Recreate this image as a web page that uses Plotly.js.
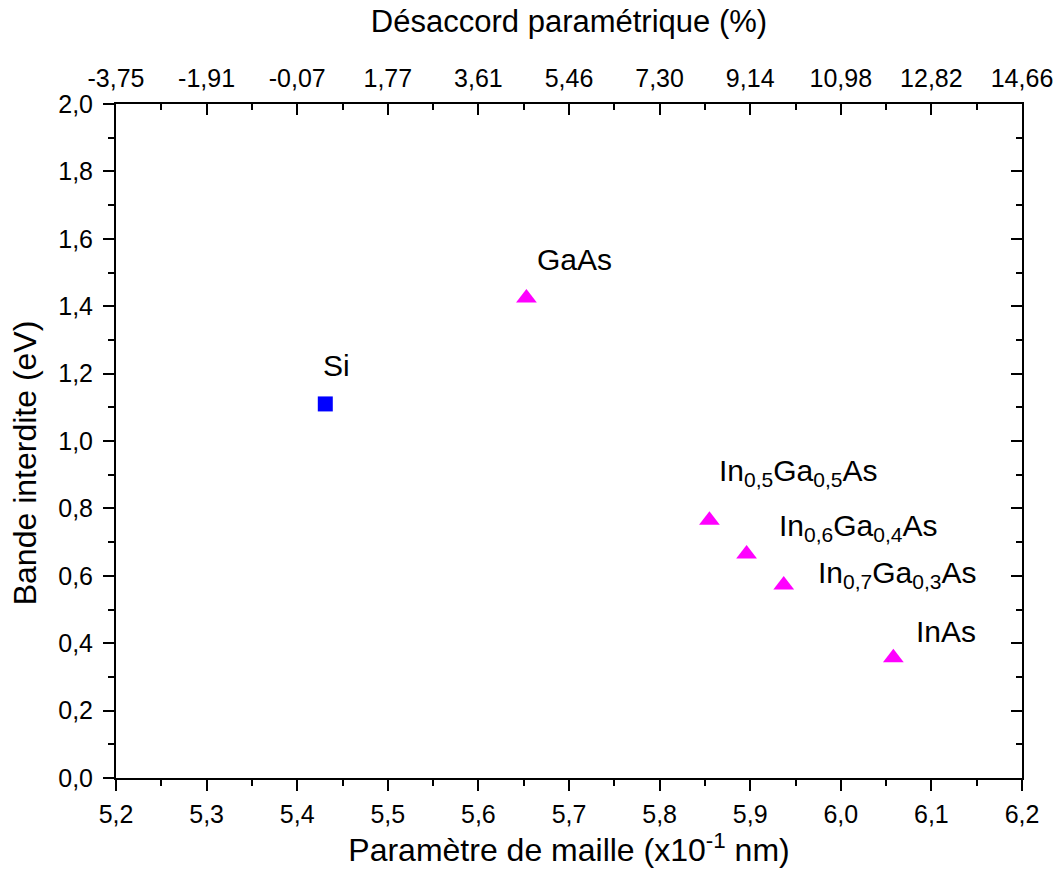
<!DOCTYPE html>
<html>
<head>
<meta charset="utf-8">
<script src="https://cdn.plot.ly/plotly-3.0.1.min.js"></script>
<style>html,body{margin:0;padding:0;background:#fff;}#chart{width:1058px;height:883px;}</style>
</head>
<body>
<div id="chart"></div>
<script>
// Data
const siLattice = [5.431];
const siGap = [1.11];
const iiivNames = ['GaAs', 'In<sub>0,5</sub>Ga<sub>0,5</sub>As', 'In<sub>0,6</sub>Ga<sub>0,4</sub>As', 'In<sub>0,7</sub>Ga<sub>0,3</sub>As', 'InAs'];
const iiivLattice = [5.653, 5.855, 5.896, 5.937, 6.058];
const iiivGap = [1.424, 0.765, 0.665, 0.573, 0.357];
const bottomTicks = [5.2, 5.3, 5.4, 5.5, 5.6, 5.7, 5.8, 5.9, 6.0, 6.1, 6.2];
const topTickText = ['-3,75', '-1,91', '-0,07', '1,77', '3,61', '5,46', '7,30', '9,14', '10,98', '12,82', '14,66'];

// label offsets in pixels (layout only)
const siLabelShift = {x: -4, y: 38};
const labelShifts = [
  {x: 9, y: 39},
  {x: 8, y: 48},
  {x: 30, y: 26},
  {x: 32, y: 10},
  {x: 21, y: 26}
];

const font = 'Liberation Sans, Arial, sans-serif';

const traces = [
  {x: siLattice, y: siGap, type: 'scatter', mode: 'markers', name: 'Si',
   marker: {symbol: 'square', size: 15, color: '#0000FF'}, showlegend: false, hoverinfo: 'x+y'},
  {x: iiivLattice, y: iiivGap, type: 'scatter', mode: 'markers', name: 'III-V',
   marker: {symbol: 'triangle-up', size: 18, color: '#FF00FF'}, showlegend: false, hoverinfo: 'x+y'},
  {x: [], y: [], xaxis: 'x2', yaxis: 'y2', type: 'scatter', mode: 'markers', showlegend: false}
];

const annotations = [
  {x: siLattice[0], y: siGap[0], text: 'Si', xref: 'x', yref: 'y', showarrow: false,
   xanchor: 'left', yanchor: 'middle', xshift: siLabelShift.x, yshift: siLabelShift.y,
   font: {family: font, size: 30, color: '#000'}},
  {x: -0.1004, y: 0.467, xref: 'paper', yref: 'paper', text: 'Bande interdite (eV)', textangle: -90,
   showarrow: false, xanchor: 'center', yanchor: 'middle',
   font: {family: font, size: 32, color: '#000'}}
];
iiivNames.forEach((n, i) => {
  annotations.push({x: iiivLattice[i], y: iiivGap[i], text: n, xref: 'x', yref: 'y', showarrow: false,
    xanchor: 'left', yanchor: 'middle', xshift: labelShifts[i].x, yshift: labelShifts[i].y,
    font: {family: font, size: 30, color: '#000'}});
});

const axisCommon = {
  showgrid: false, zeroline: false, showline: true, linecolor: '#000', linewidth: 2,
  tickcolor: '#000', tickwidth: 2, ticklen: 11,
  tickfont: {family: font, size: 25, color: '#000'}
};

const layout = {
  width: 1058, height: 883,
  margin: {l: 116, r: 36, t: 104, b: 105},
  paper_bgcolor: '#fff', plot_bgcolor: '#fff',
  separators: ', ',
  font: {family: font, color: '#000'},
  showlegend: false,
  xaxis: Object.assign({}, axisCommon, {
    range: [5.2, 6.2], tickvals: bottomTicks, tickformat: '.1f', ticks: 'outside', ticklabelstandoff: 2,
    minor: {dtick: 0.05, ticks: 'outside', ticklen: 6, tickwidth: 2, tickcolor: '#000', showgrid: false},
    title: {text: 'Paramètre de maille (x10<sup>-1</sup> nm)', font: {family: font, size: 32, color: '#000'}, standoff: 12}
  }),
  yaxis: Object.assign({}, axisCommon, {
    range: [0, 2], dtick: 0.2, tick0: 0, tickformat: '.1f', ticks: 'outside', ticklabelstandoff: 5,
    minor: {dtick: 0.1, ticks: 'outside', ticklen: 6, tickwidth: 2, tickcolor: '#000', showgrid: false}
  }),
  xaxis2: Object.assign({}, axisCommon, {
    overlaying: 'x', side: 'top', anchor: 'y2', range: [5.2, 6.2],
    tickmode: 'array', tickvals: bottomTicks, ticktext: topTickText, ticks: 'inside', ticklabelstandoff: 5,
    minor: {dtick: 0.05, ticks: 'inside', ticklen: 6, tickwidth: 2, tickcolor: '#000', showgrid: false},
    title: {text: 'Désaccord paramétrique (%)', font: {family: font, size: 31, color: '#000'}, standoff: 22}
  }),
  yaxis2: Object.assign({}, axisCommon, {
    overlaying: 'y', side: 'right', anchor: 'x2', range: [0, 2], dtick: 0.2, tick0: 0,
    ticks: 'inside', showticklabels: false,
    minor: {dtick: 0.1, ticks: 'inside', ticklen: 6, tickwidth: 2, tickcolor: '#000', showgrid: false}
  }),
  annotations: annotations
};

Plotly.newPlot('chart', traces, layout, {displayModeBar: false, staticPlot: true});
</script>
</body>
</html>
